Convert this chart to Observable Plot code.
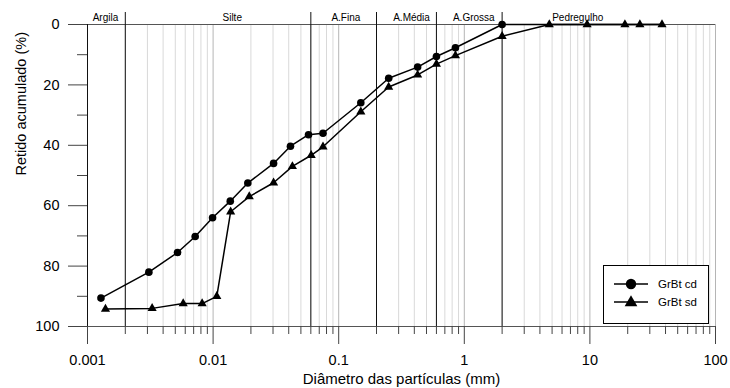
<!DOCTYPE html>
<html><head><meta charset="utf-8">
<script src="https://cdn.jsdelivr.net/npm/d3@7"></script>
<script src="https://cdn.jsdelivr.net/npm/@observablehq/plot@0.6"></script>
<style>
body{margin:0;background:#fff;font-family:"Liberation Sans",Arial,sans-serif}
#wrap{position:relative;width:730px;height:388px}
#legend{position:absolute;left:603px;top:265px;width:104px;height:57px;border:1px solid #000;background:#fff;box-sizing:content-box}
#legend .row{position:absolute;left:0;height:18px;display:flex;align-items:center}
#legend svg{display:block}
#legend span{font-size:11.5px;color:#000;margin-left:10px}
</style></head><body><div id="wrap"></div>
<script>
// Series: GrBt cd (circles)
const cdDiam = [0.00128, 0.00308, 0.00521, 0.0072, 0.0099, 0.0137, 0.0189, 0.0303, 0.0413, 0.0575, 0.075, 0.15, 0.25, 0.425, 0.6, 0.85, 2.0, 4.75, 9.5, 19, 25, 37.5];
const cdRet  = [90.6, 82.0, 75.5, 70.2, 64.0, 58.5, 52.5, 46.0, 40.3, 36.5, 36.0, 25.9, 17.8, 14.1, 10.6, 7.7, 0, 0, 0, 0, 0, 0];
// Series: GrBt sd (triangles)
const sdDiam = [0.00139, 0.00327, 0.00578, 0.00818, 0.0107, 0.0138, 0.0194, 0.0303, 0.0428, 0.0604, 0.075, 0.15, 0.25, 0.425, 0.6, 0.85, 2.0, 4.75, 9.5, 19, 25, 37.5];
const sdRet  = [94.2, 94.0, 92.4, 92.4, 90.0, 62.0, 57.0, 52.4, 47.0, 43.3, 40.5, 28.9, 20.7, 16.7, 13.1, 10.3, 3.9, 0, 0, 0, 0, 0];
// Particle-size zones
const zoneNames  = ["Argila", "Silte", "A.Fina", "A.Média", "A.Grossa", "Pedregulho"];
const zoneLabelX = [0.00139, 0.0142, 0.114, 0.38, 1.19, 8.0];
const zoneBounds = [0.002, 0.06, 0.2, 0.6, 2];
// Ticks
const xDecades = [0.001, 0.01, 0.1, 1, 10, 100];
const xTickLabels = ["0.001", "0.01", "0.1", "1", "10", "100"];
const yMajor = [0, 20, 40, 60, 80, 100];
const yMinor = [10, 30, 50, 70, 90];
const seriesNames = ["GrBt cd", "GrBt sd"];

const xMinor = [];
for (let k = -3; k <= 1; k++) for (let m = 2; m <= 9; m++) xMinor.push(+(m * Math.pow(10, k)).toPrecision(3));

const cd = cdDiam.map((d, i) => ({d, v: cdRet[i]}));
const sd = sdDiam.map((d, i) => ({d, v: sdRet[i]}));
const zones = zoneNames.map((n, i) => ({n, x: zoneLabelX[i]}));
const fmt = d => xTickLabels[xDecades.findIndex(v => Math.abs(v - d) / d < 1e-6)];

const chart = Plot.plot({
  width: 730, height: 388,
  marginTop: 24, marginBottom: 62, marginLeft: 87, marginRight: 15,
  style: {fontFamily: '"Liberation Sans", Arial, sans-serif', fontSize: "14px", color: "#000", background: "#fff", overflow: "visible"},
  x: {type: "log", domain: [0.001, 100]},
  y: {domain: [0, 100], reverse: true},
  marks: [
    Plot.ruleX(xMinor, {stroke: "#d9d9d9", strokeWidth: 1}),
    Plot.ruleX(xDecades.slice(1), {stroke: "#b5b5b5", strokeWidth: 1}),
    Plot.ruleY([0, 100], {stroke: "#555", strokeWidth: 1}),
    Plot.ruleX([0.001], {stroke: "#111", strokeWidth: 1}),
    Plot.ruleX(zoneBounds, {stroke: "#111", strokeWidth: 1, insetTop: -12}),
    Plot.text(zones, {x: "x", text: "n", frameAnchor: "top", dy: -7, lineAnchor: "middle", fontSize: 10}),
    Plot.axisY(yMajor, {tickSize: 19, tickPadding: 9, stroke: "#444", fontSize: 14.5, label: null}),
    Plot.axisY(yMinor, {tickSize: 10, stroke: "#444", tickFormat: () => "", label: null}),
    Plot.axisX(xDecades, {tickSize: 18, tickPadding: 10, stroke: "#444", tickFormat: fmt, fontSize: 14.5, label: null}),
    Plot.axisX(xMinor, {tickSize: 8, stroke: "#444", tickFormat: () => "", label: null}),
    Plot.text(["Diâmetro das partículas (mm)"], {frameAnchor: "bottom", dy: 53, lineAnchor: "middle", fontSize: 15}),
    Plot.text(["Retido acumulado (%)"], {frameAnchor: "left", dx: -66, rotate: -90, lineAnchor: "middle", fontSize: 14.5}),
    Plot.line(cd, {x: "d", y: "v", stroke: "#000", strokeWidth: 1.5}),
    Plot.line(sd, {x: "d", y: "v", stroke: "#000", strokeWidth: 1.5}),
    Plot.dot(cd, {filter: p => p.d <= 2, x: "d", y: "v", symbol: "circle", r: 3.8, fill: "#000", stroke: null}),
    Plot.dot(sd, {x: "d", y: "v", symbol: "triangle", r: 3.4, fill: "#000", stroke: null})
  ]
});

const wrap = document.getElementById("wrap");
wrap.appendChild(chart);

// Legend
const legend = document.createElement("div");
legend.id = "legend";
const syms = ["circle", "triangle"];
seriesNames.forEach((name, i) => {
  const row = document.createElement("div");
  row.className = "row";
  row.style.top = (9 + i * 18) + "px";
  const s = d3.create("svg").attr("width", 44).attr("height", 18);
  s.append("line").attr("x1", 10).attr("x2", 44).attr("y1", 9).attr("y2", 9).attr("stroke", "#000").attr("stroke-width", 1.5);
  const sym = syms[i] === "circle" ? d3.symbol(d3.symbolCircle, Math.PI * 5.2 * 5.2) : d3.symbol(d3.symbolTriangle, 70);
  s.append("path").attr("d", sym()).attr("transform", `translate(27,${i ? 9.5 : 9})`).attr("fill", "#000");
  row.appendChild(s.node());
  const t = document.createElement("span");
  t.textContent = name;
  row.appendChild(t);
  legend.appendChild(row);
});
wrap.appendChild(legend);
</script></body></html>
